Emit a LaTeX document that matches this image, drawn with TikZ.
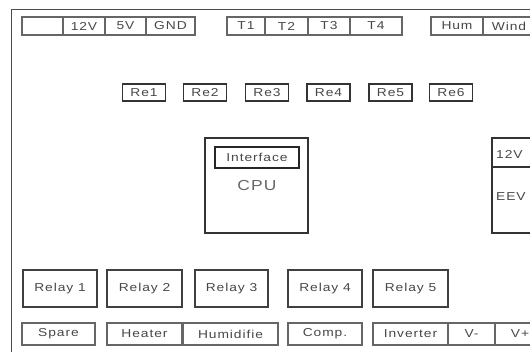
\documentclass[tikz,border=0pt]{standalone}
\usepackage{fontspec}
\setmainfont{Liberation Sans}[FakeStretch=1.2, LetterSpace=8]
\begin{document}
\begin{tikzpicture}[x=1pt,y=-1pt,
  every node/.style={font=\fontsize{11.5}{13}\selectfont, text=black!72, inner sep=0pt},
  cell/.style={draw=black!60, line width=2.2pt, minimum height=18pt},
  bot/.style={draw=black!60, line width=2.2pt, minimum height=22pt},
  rebox/.style={draw=black!80, line width=1.6pt, minimum width=43pt, minimum height=17pt},
  relay/.style={draw=black!75, line width=1.8pt, minimum height=37pt},
  bigbox/.style={draw=black!80, line width=1.5pt},
  frame/.style={draw=black!70, line width=0.9pt}]
\useasboundingbox (0,0) rectangle (530,351);
\coordinate (fb) at (11,360);
\coordinate (fc) at (11,9);
\coordinate (fr) at (540,9);
\draw[frame] (fb) -- (fc) -- (fr);
% top row
\node[cell, minimum width=41pt] (c0) at (42.5,26) {};
\node[cell, minimum width=42pt] (v12) at (84,26) {12V};
\node[cell, minimum width=41pt] (v5) at (125.5,26) {5V};
\node[cell, minimum width=49pt] (gnd) at (170.5,26) {GND};
\node[cell, minimum width=38pt] (t1) at (246,26) {T1};
\node[cell, minimum width=43pt] (t2) at (286.5,26) {T2};
\node[cell, minimum width=42pt] (t3) at (329,26) {T3};
\node[cell, minimum width=52pt] (t4) at (376,26) {T4};
\node[cell, minimum width=52pt] (hum) at (457,26) {Hum};
\node[cell, minimum width=52pt] (wind) at (509,26) {Wind};
% Re row
\node[rebox] (re1) at (144,92.5) {Re1};
\node[rebox] (re2) at (205,92.5) {Re2};
\node[rebox] (re3) at (267,92.5) {Re3};
\node[rebox] (re4) at (328.5,92.5) {Re4};
\node[rebox] (re5) at (390.5,92.5) {Re5};
\node[rebox] (re6) at (451,92.5) {Re6};
% CPU
\node[bigbox, minimum width=103pt, minimum height=95pt] (cpu) at (256.5,185.5) {};
\node[draw=black!85, line width=1.6pt, minimum width=84pt, minimum height=21pt] (iface) at (257,157.5) {Interface};
\node[font=\fontsize{14.5}{16}\selectfont, text=black!60] (cputxt) at (257,186) {CPU};
% EEV
\node[bigbox, minimum width=68pt, minimum height=95pt] (eev) at (526,185.5) {};
\coordinate (dl) at (492,167);
\coordinate (dr) at (560,167);
\draw[bigbox] (dl) -- (dr);
\node[anchor=west] (e12) at (496,154) {12V};
\node[anchor=west] (eevt) at (496,197) {EEV};
% relays
\node[relay, minimum width=74pt] (r1) at (60,288.5) {Relay 1};
\node[relay, minimum width=75pt] (r2) at (144.5,288.5) {Relay 2};
\node[relay, minimum width=73pt] (r3) at (231.5,288.5) {Relay 3};
\node[relay, minimum width=74pt] (r4) at (325,288.5) {Relay 4};
\node[relay, minimum width=75pt] (r5) at (410.5,288.5) {Relay 5};
% bottom row
\node[bot, minimum width=73pt] (spare) at (58.5,334) {Spare};
\node[bot, minimum width=75pt] (heater) at (144.5,334) {Heater};
\node[bot, minimum width=95pt] (humid) at (230.5,334) {Humidifie};
\node[bot, minimum width=74pt] (comp) at (325,334) {Comp.};
\node[bot, minimum width=75pt] (inv) at (410.5,334) {Inverter};
\node[bot, minimum width=47pt] (vm) at (471.5,334) {V-};
\node[bot, minimum width=50pt] (vp) at (520,334) {V+};
\end{tikzpicture}
\end{document}
